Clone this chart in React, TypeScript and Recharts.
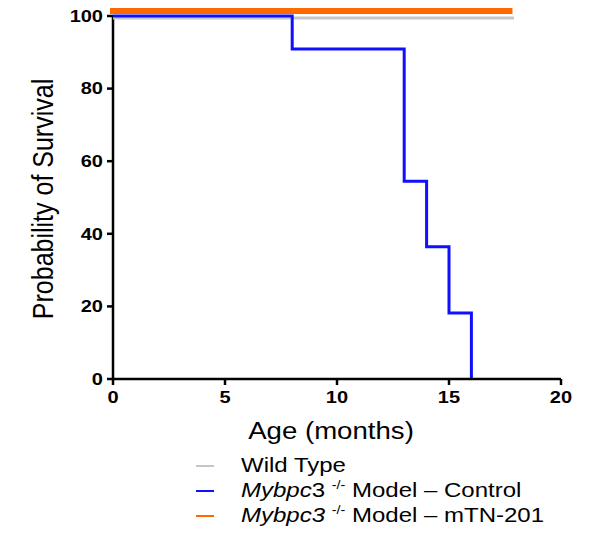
import React from 'react';
import { LineChart, Line, XAxis, YAxis, Legend, ReferenceLine } from 'recharts';

// ---- data ----
const seriesNames = ['Wild Type', 'Mybpc3 -/- Model – Control', 'Mybpc3 -/- Model – mTN-201'];
const seriesColors = ['#c6c6c6', '#1010ff', '#ff6a00'];

const wildTypeAges = [0, 17.9];
const wildTypeSurvival = [100, 100];

const controlAges = [0, 8, 13, 14, 15, 16];
const controlSurvival = [100, 90.9, 54.5, 36.4, 18.2, 0];

const treatedAges = [0, 17.7];
const treatedSurvival = [100, 100];

const xTicks = [0, 5, 10, 15, 20];
const yTicks = [0, 20, 40, 60, 80, 100];

const xTitle = 'Age (months)';
const yTitle = 'Probability of Survival';

const zip = (xs: number[], ys: number[]) => xs.map((x, i) => ({ x, y: ys[i] }));
const wildTypeData = zip(wildTypeAges, wildTypeSurvival);
const controlData = zip(controlAges, controlSurvival);
const treatedData = zip(treatedAges, treatedSurvival);

const FONT = '"Liberation Sans", Arial, Helvetica, sans-serif';
const STRETCH = 1.15;
const LEGEND_STRETCH = 1.2;

const XTick = (props: any) => {
  const { x, y, payload } = props;
  return (
    <g transform={`translate(${x},${y}) scale(1.25,1)`}>
      <text x={0} y={0} dy={16} textAnchor="middle" fontFamily={FONT} fontWeight="bold" fontSize={16} fill="#000">
        {payload.value}
      </text>
    </g>
  );
};

const YTick = (props: any) => {
  const { x, y, payload } = props;
  return (
    <g transform={`translate(${x},${y}) scale(1.25,1)`}>
      <text x={0} y={0} dy={5.8} textAnchor="end" fontFamily={FONT} fontWeight="bold" fontSize={16} fill="#000">
        {payload.value}
      </text>
    </g>
  );
};

const XTitle = (props: any) => {
  const vb = props.viewBox || { x: 0, y: 0, width: 0, height: 0 };
  const cx = vb.x + vb.width / 2 - 6;
  const cy = vb.y + 60;
  return (
    <g transform={`translate(${cx},${cy}) scale(${STRETCH},1)`}>
      <text x={0} y={0} textAnchor="middle" fontFamily={FONT} fontSize={24} fill="#000">
        {xTitle}
      </text>
    </g>
  );
};

const YTitle = (props: any) => {
  const vb = props.viewBox || { x: 0, y: 0, width: 0, height: 0 };
  const cx = 53;
  const cy = vb.y + vb.height / 2 + 5.5;
  return (
    <g transform={`translate(${cx},${cy}) scale(${STRETCH},1) rotate(-90)`}>
      <text x={0} y={0} textAnchor="middle" fontFamily={FONT} fontSize={25} fill="#000">
        {yTitle}
      </text>
    </g>
  );
};

const supStyle: React.CSSProperties = { fontSize: 12, verticalAlign: 'super', lineHeight: 0 };

const richLabels: React.ReactNode[] = [
  <>Wild Type</>,
  <>
    <i>Mybpc</i>3 <sup style={supStyle}>-/-</sup> Model – Control
  </>,
  <>
    <i>Mybpc3</i> <sup style={supStyle}>-/-</sup> Model – mTN-201
  </>,
];

const LegendContent = (props: any) => {
  const payload = [...(props.payload || [])].sort(
    (a: any, b: any) => seriesNames.indexOf(a.value) - seriesNames.indexOf(b.value)
  );
  return (
    <div style={{ fontFamily: FONT, fontSize: 20, color: '#000' }}>
      {payload.map((entry: any, i: number) => {
        const idx = seriesNames.indexOf(entry.value);
        return (
          <div key={i} style={{ display: 'flex', alignItems: 'center', height: 25 }}>
            <span style={{ display: 'inline-block', width: 18, height: 2, background: entry.color, marginRight: 27 }} />
            <span
              style={{
                display: 'inline-block',
                whiteSpace: 'nowrap',
                transform: `scaleX(${LEGEND_STRETCH})`,
                transformOrigin: 'left center',
              }}
            >
              {richLabels[idx >= 0 ? idx : i]}
            </span>
          </div>
        );
      })}
    </div>
  );
};

export default function App() {
  return (
    <div style={{ position: 'absolute', left: 0, top: 0, width: 596, height: 536, background: '#fff' }}>
      <LineChart width={596} height={536} margin={{ top: 8, right: 35, bottom: 117, left: 0 }}>
        <XAxis
          type="number"
          dataKey="x"
          domain={[0, 20]}
          ticks={xTicks}
          height={40}
          axisLine={{ stroke: '#000', strokeWidth: 2.5 }}
          tickLine={{ stroke: '#000', strokeWidth: 2.5 }}
          tickSize={6}
          tick={<XTick />}
          label={{ content: (p: any) => <XTitle {...p} /> }}
        />
        <YAxis
          type="number"
          domain={[0, 102.2]}
          ticks={yTicks}
          width={113}
          axisLine={false}
          tickLine={{ stroke: '#000', strokeWidth: 2.5 }}
          tickSize={6}
          tickMargin={4}
          tick={<YTick />}
          label={{ content: (p: any) => <YTitle {...p} /> }}
        />
        <YAxis yAxisId="wt" hide type="number" domain={[0, 102.77]} />
        <YAxis yAxisId="treated" hide type="number" domain={[0, 100.8]} />
        <ReferenceLine
          segment={[
            { x: 0, y: 0 },
            { x: 0, y: 100 },
          ]}
          stroke="#000"
          strokeWidth={2.5}
        />
        <Line
          yAxisId="wt"
          data={wildTypeData}
          dataKey="y"
          name={seriesNames[0]}
          type="linear"
          stroke={seriesColors[0]}
          strokeWidth={3}
          dot={false}
          activeDot={false}
          isAnimationActive={false}
        />
        <Line
          data={controlData}
          dataKey="y"
          name={seriesNames[1]}
          type="stepAfter"
          stroke={seriesColors[1]}
          strokeWidth={3}
          dot={false}
          activeDot={false}
          isAnimationActive={false}
        />
        <Line
          yAxisId="treated"
          data={treatedData}
          dataKey="y"
          name={seriesNames[2]}
          type="linear"
          stroke={seriesColors[2]}
          strokeWidth={6}
          strokeLinecap="square"
          dot={false}
          activeDot={false}
          isAnimationActive={false}
        />
        <Legend
          layout="vertical"
          align="center"
          verticalAlign="middle"
          content={<LegendContent />}
          wrapperStyle={{ position: 'absolute', left: 196, top: 453, width: 400, height: 80 }}
        />
      </LineChart>
    </div>
  );
}
